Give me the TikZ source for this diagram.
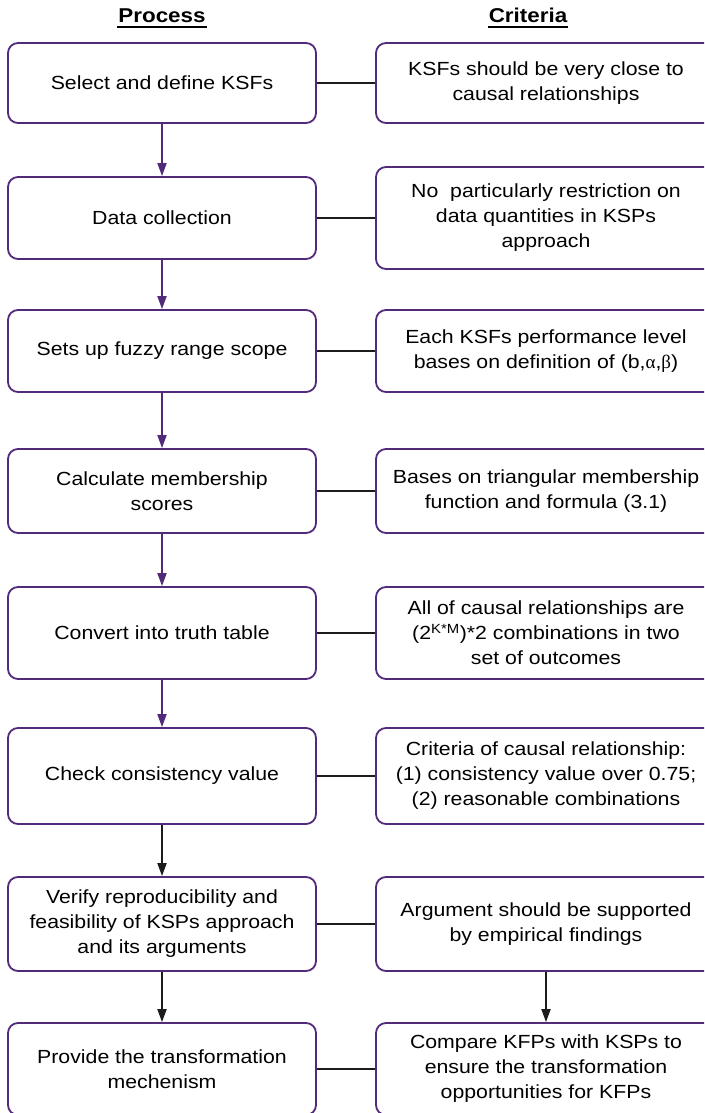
\documentclass[tikz,border=0pt]{standalone}
\usepackage{fontspec}
\setmainfont{Liberation Sans}[FakeStretch=1.12]
\newfontfamily\greekfont{Liberation Serif}
\usetikzlibrary{arrows.meta}

\definecolor{boxpurple}{RGB}{82,42,122}
\definecolor{linkgray}{RGB}{28,28,28}

\tikzset{
  stepbox/.style={draw=boxpurple, line width=1.8pt, rounded corners=10pt,
    align=center, inner sep=4pt, font=\fontsize{19}{25}\selectfont},
  procbox/.style={stepbox, minimum width=308pt},
  critbox/.style={stepbox, minimum width=340pt},
  link/.style={draw=linkgray, line width=1.8pt},
  flow/.style={line width=1.8pt, -{Triangle[length=13pt,width=9pt]}},
  head/.style={font=\fontsize{20}{24}\selectfont\bfseries, inner sep=0pt, anchor=base},
}

\begin{document}
\begin{tikzpicture}[x=1pt, y=-1pt]
  \path[use as bounding box, clip] (0,0) rectangle (704,1113);

  % column headings
  \node[head] (hp) at (162,23) {Process};
  \node[head] (hc) at (528,23) {Criteria};
  \draw[line width=2.2pt] ([yshift=-4pt,xshift=-1pt]hp.base west) -- ([yshift=-4pt,xshift=1pt]hp.base east);
  \draw[line width=2.2pt] ([yshift=-4pt,xshift=-1pt]hc.base west) -- ([yshift=-4pt,xshift=1pt]hc.base east);

  % process steps
  \node[procbox, minimum height=80pt] (p1) at (162,83)   {Select and define KSFs};
  \node[procbox, minimum height=82pt] (p2) at (162,218)  {Data collection};
  \node[procbox, minimum height=82pt] (p3) at (162,351)  {Sets up fuzzy range scope};
  \node[procbox, minimum height=84pt] (p4) at (162,491)  {Calculate membership\\scores};
  \node[procbox, minimum height=92pt] (p5) at (162,633)  {Convert into truth table};
  \node[procbox, minimum height=96pt] (p6) at (162,776)  {Check consistency value};
  \node[procbox, minimum height=94pt] (p7) at (162,924)  {Verify reproducibility and\\feasibility of KSPs approach\\and its arguments};
  \node[procbox, minimum height=92pt] (p8) at (162,1069) {Provide the transformation\\mechenism};

  % criteria
  \node[critbox, minimum height=80pt]  (c1) at (546,83)   {KSFs should be very close to\\causal relationships};
  \node[critbox, minimum height=102pt] (c2) at (546,218)  {No\ \ particularly restriction on\\data quantities in KSPs\\approach};
  \node[critbox, minimum height=82pt]  (c3) at (546,351)  {Each KSFs performance level\\bases on definition of (b,{\greekfont α},{\greekfont β})};
  \node[critbox, minimum height=84pt]  (c4) at (546,491)  {Bases on triangular membership\\function and formula (3.1)};
  \node[critbox, minimum height=92pt]  (c5) at (546,633)  {All of causal relationships are\\(2\textsuperscript{K*M})*2 combinations in two\\set of outcomes};
  \node[critbox, minimum height=96pt]  (c6) at (546,776)  {Criteria of causal relationship:\\(1) consistency value over 0.75;\\(2) reasonable combinations};
  \node[critbox, minimum height=94pt]  (c7) at (546,924)  {Argument should be supported\\by empirical findings};
  \node[critbox, minimum height=92pt]  (c8) at (546,1069) {Compare KFPs with KSPs to\\ensure the transformation\\opportunities for KFPs};

  % links between each step and its criterion
  \foreach \i in {1,...,8} {
    \draw[link] (p\i.east) -- (c\i.west);
  }

  % process flow
  \foreach \i/\j in {1/2,2/3,3/4,4/5,5/6} {
    \draw[flow, boxpurple] (p\i.south) -- (p\j.north);
  }
  \draw[flow, linkgray] (p6.south) -- (p7.north);
  \draw[flow, linkgray] (p7.south) -- (p8.north);
  \draw[flow, linkgray] (c7.south) -- (c8.north);
\end{tikzpicture}
\end{document}
